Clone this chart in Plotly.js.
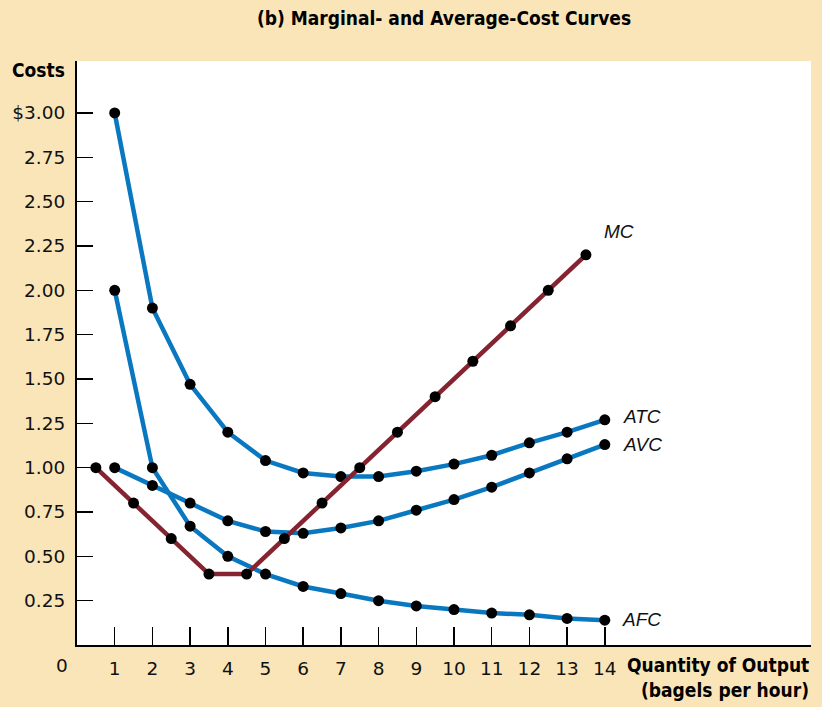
<!DOCTYPE html>
<html><head><meta charset="utf-8">
<script src="https://cdn.plot.ly/plotly-3.0.1.min.js"></script>
<style>html,body{margin:0;padding:0;background:#FAE5B8;}</style>
</head><body><div id="chart" style="width:822px;height:707px;"></div>
<script>
// Data
const quantity = [1,2,3,4,5,6,7,8,9,10,11,12,13,14];
const mcQuantity = [0.5,1.5,2.5,3.5,4.5,5.5,6.5,7.5,8.5,9.5,10.5,11.5,12.5,13.5];
const mcValues = [1.00,0.80,0.60,0.40,0.40,0.60,0.80,1.00,1.20,1.40,1.60,1.80,2.00,2.20];
const atcValues = [3.00,1.90,1.47,1.20,1.04,0.97,0.95,0.95,0.98,1.02,1.07,1.14,1.20,1.27];
const avcValues = [1.00,0.90,0.80,0.70,0.64,0.63,0.66,0.70,0.76,0.82,0.89,0.97,1.05,1.13];
const afcValues = [2.00,1.00,0.67,0.50,0.40,0.33,0.29,0.25,0.22,0.20,0.18,0.17,0.15,0.14];
const yTickVals = [0.25,0.50,0.75,1.00,1.25,1.50,1.75,2.00,2.25,2.50,2.75,3.00];
const yTickText = ["0.25","0.50","0.75","1.00","1.25","1.50","1.75","2.00","2.25","2.50","2.75","$3.00"];
const xTickVals = quantity;
const curveLabels = ["MC","ATC","AVC","AFC"];

const blue = '#0A78C0', red = '#852331';
function tr(x, y, color) {
  return {x: x, y: y, type: 'scatter', mode: 'lines+markers',
    line: {color: color, width: 4.5},
    marker: {color: '#000', size: 11}, hoverinfo: 'skip', cliponaxis: false};
}
const data = [
  tr(quantity, afcValues, blue),
  tr(quantity, avcValues, blue),
  tr(quantity, atcValues, blue),
  tr(mcQuantity, mcValues, red)
];

const tickFont = {family: 'DejaVu Sans', size: 18.5, color: '#111'};
const boldFont = {family: '"Liberation Sans Narrow", "DejaVu Sans Condensed", sans-serif', size: 19, color: '#000', weight: 'bold'};
const labelFont = {family: 'Liberation Sans, Arial, sans-serif', size: 19, color: '#111', style: 'italic'};

const labelPos = {MC: [13.92, 2.33], ATC: [14.43, 1.287], AVC: [14.43, 1.129], AFC: [14.40, 0.143]};
const annotations = curveLabels.map(k => ({
  x: labelPos[k][0], y: labelPos[k][1], xref: 'x', yref: 'y', text: '<i>' + k + '</i>',
  showarrow: false, xanchor: 'left', yanchor: 'middle', font: labelFont
}));
annotations.push(
  {x: 0, y: 1, xref: 'paper', yref: 'paper', text: '<b>Costs</b>', showarrow: false,
   xanchor: 'right', yanchor: 'middle', xshift: -10, yshift: -9, font: boldFont},
  {x: 0, y: 0, xref: 'paper', yref: 'paper', text: '0', showarrow: false,
   xanchor: 'center', yanchor: 'middle', xshift: -15, yshift: -20, font: tickFont},
  {x: 1, y: 0, xref: 'paper', yref: 'paper', text: '<b>Quantity of Output</b>', showarrow: false,
   xanchor: 'right', yanchor: 'middle', yshift: -20, font: boldFont},
  {x: 1, y: 0, xref: 'paper', yref: 'paper', text: '<b>(bagels per hour)</b>', showarrow: false,
   xanchor: 'right', yanchor: 'middle', yshift: -45, font: boldFont}
);

const layout = {
  width: 822, height: 707,
  margin: {l: 77, r: 11, t: 61, b: 62},
  paper_bgcolor: '#FAE5B8', plot_bgcolor: '#FFFFFF',
  showlegend: false,
  title: {text: '<b>(b) Marginal- and Average-Cost Curves</b>', font: boldFont,
    xref: 'paper', x: 0.5, xanchor: 'center', yref: 'container', y: 0.974, yanchor: 'middle'},
  xaxis: {range: [0, 19.47], tickvals: xTickVals, ticks: 'inside', ticklen: 18, tickwidth: 1.5,
    tickcolor: '#000', showgrid: false, zeroline: false, showline: true, linecolor: '#000', linewidth: 2,
    tickfont: tickFont, ticklabelstandoff: 6, fixedrange: true},
  yaxis: {range: [0, 3.293], tickvals: yTickVals, ticktext: yTickText, ticks: 'inside', ticklen: 16, tickwidth: 1.5,
    tickcolor: '#000', showgrid: false, zeroline: false, showline: true, linecolor: '#000', linewidth: 2,
    tickfont: tickFont, ticklabelstandoff: 6, fixedrange: true},
  annotations: annotations
};
Plotly.newPlot('chart', data, layout, {displayModeBar: false, staticPlot: true});
</script></body></html>
